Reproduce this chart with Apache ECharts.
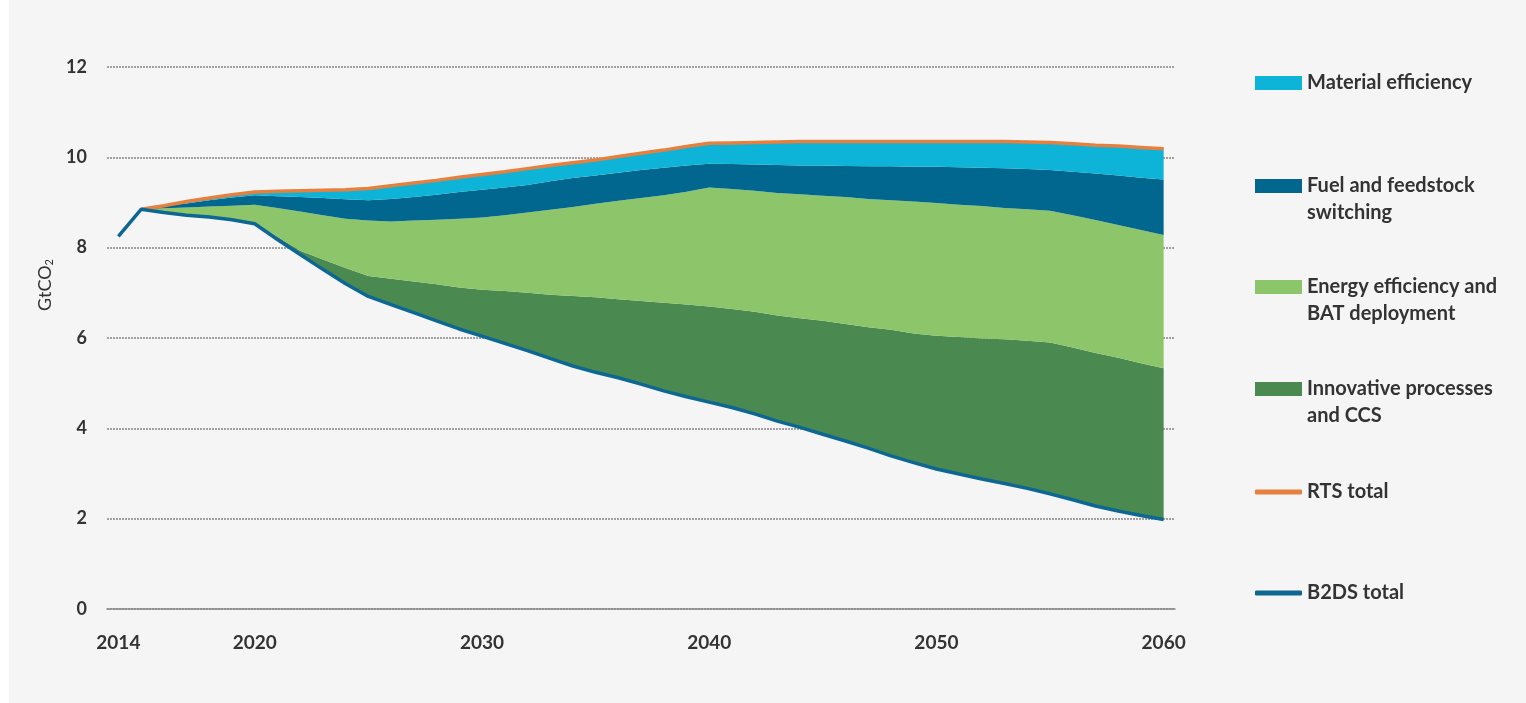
<!DOCTYPE html>
<html>
<head>
<meta charset="utf-8">
<script src="https://cdn.jsdelivr.net/npm/echarts@6/dist/echarts.min.js"></script>
<style>
  html, body { margin: 0; padding: 0; background: #ffffff; }
  #chart { width: 1526px; height: 703px; }
</style>
</head>
<body>
<div id="chart"></div>
<script>
// years on the x axis
const years = ['2014', '2015', '2016', '2017', '2018', '2019', '2020', '2021', '2022', '2023',
  '2024', '2025', '2026', '2027', '2028', '2029', '2030', '2031', '2032', '2033',
  '2034', '2035', '2036', '2037', '2038', '2039', '2040', '2041', '2042', '2043',
  '2044', '2045', '2046', '2047', '2048', '2049', '2050', '2051', '2052', '2053',
  '2054', '2055', '2056', '2057', '2058', '2059', '2060']

// level (GtCO2) of every boundary between the bands
const b2dsTotal = [8.25, 8.85, 8.78, 8.72, 8.68, 8.62, 8.53, 8.18, 7.85, 7.52,
  7.20, 6.92, 6.74, 6.56, 6.38, 6.20, 6.04, 5.88, 5.72, 5.55,
  5.38, 5.24, 5.12, 4.98, 4.83, 4.70, 4.58, 4.46, 4.32, 4.16,
  4.02, 3.87, 3.72, 3.56, 3.39, 3.24, 3.10, 2.99, 2.88, 2.78,
  2.67, 2.55, 2.42, 2.28, 2.17, 2.07, 1.98]
const innovTop = [8.25, 8.85, 8.78, 8.72, 8.68, 8.62, 8.53, 8.24, 7.93, 7.74,
  7.55, 7.37, 7.31, 7.25, 7.19, 7.12, 7.07, 7.04, 7.00, 6.96,
  6.93, 6.90, 6.86, 6.82, 6.78, 6.74, 6.70, 6.64, 6.58, 6.50,
  6.44, 6.38, 6.31, 6.24, 6.18, 6.10, 6.05, 6.02, 5.99, 5.97,
  5.94, 5.90, 5.79, 5.67, 5.56, 5.44, 5.33]
const energyTop = [8.25, 8.85, 8.87, 8.89, 8.91, 8.93, 8.95, 8.88, 8.80, 8.72,
  8.64, 8.60, 8.58, 8.60, 8.62, 8.64, 8.67, 8.72, 8.78, 8.84,
  8.90, 8.97, 9.04, 9.10, 9.16, 9.24, 9.33, 9.30, 9.26, 9.21,
  9.18, 9.15, 9.12, 9.08, 9.05, 9.02, 8.99, 8.95, 8.92, 8.88,
  8.85, 8.82, 8.72, 8.61, 8.50, 8.39, 8.28]
const fuelTop = [8.25, 8.85, 8.92, 8.98, 9.05, 9.11, 9.16, 9.14, 9.12, 9.10,
  9.07, 9.05, 9.08, 9.12, 9.17, 9.23, 9.28, 9.33, 9.39, 9.47,
  9.54, 9.60, 9.66, 9.72, 9.77, 9.82, 9.86, 9.85, 9.84, 9.83,
  9.82, 9.82, 9.81, 9.80, 9.80, 9.79, 9.79, 9.78, 9.77, 9.76,
  9.74, 9.72, 9.68, 9.64, 9.60, 9.55, 9.51]
const rtsTotal = [null, 8.85, 8.93, 9.02, 9.10, 9.17, 9.23, 9.25, 9.26, 9.27,
  9.28, 9.31, 9.37, 9.43, 9.49, 9.56, 9.62, 9.68, 9.75, 9.82,
  9.88, 9.94, 10.02, 10.09, 10.16, 10.24, 10.31, 10.32, 10.33, 10.34,
  10.35, 10.35, 10.35, 10.35, 10.35, 10.35, 10.35, 10.35, 10.35, 10.35,
  10.34, 10.33, 10.30, 10.27, 10.25, 10.22, 10.19]
const yTicks = [0, 2, 4, 6, 8, 10, 12]

// thickness of each band = gap between two boundaries
const band = (top, bottom) => top.map((v, i) => v == null ? 0 : +(v - bottom[i]).toFixed(2))

const colors = {
  material: '#0db4d7',
  fuel: '#02678f',
  energy: '#8cc56a',
  innov: '#4a8a50',
  rts: '#e5803f',
  b2ds: '#0e6792'
}

const font = 'Lato, "Open Sans", sans-serif'

function areaSeries (name, data, color) {
  return {
    name: name,
    type: 'line',
    stack: 'total',
    data: data,
    symbol: 'none',
    lineStyle: { width: 0 },
    itemStyle: { color: color },
    areaStyle: { color: color, opacity: 1 },
    silent: true
  }
}

// one legend per row; two-line labels get an empty first line so the
// swatch lines up with the first line of text
function legendItem (name, top, icon, h, twoLines) {
  return {
    data: [{ name: name, icon: icon }],
    left: 1255,
    top: top,
    padding: 0,
    itemWidth: 47,
    itemHeight: h,
    itemGap: 0,
    selectedMode: false,
    formatter: n => {
      if (!twoLines) return n
      return ' \n' + n.replace(' switching', '\nswitching').replace(' BAT', '\nBAT').replace(' and CCS', '\nand CCS')
    },
    textStyle: {
      color: '#333',
      fontSize: 20,
      fontWeight: 'bold',
      fontFamily: font,
      lineHeight: 27
    }
  }
}

let chart = echarts.init(document.getElementById('chart'))
let option = {
  animation: false,
  backgroundColor: '#f5f5f5',
  graphic: [
    { type: 'rect', left: 0, top: 0, shape: { width: 9, height: 703 }, style: { fill: '#ffffff' } }
  ],
  legend: [
    legendItem('Material efficiency', 83 - 13.5, 'rect', 14, false),
    legendItem('Fuel and feedstock switching', 186 - 40.5, 'rect', 14, true),
    legendItem('Energy efficiency and BAT deployment', 287 - 40.5, 'rect', 14, true),
    legendItem('Innovative processes and CCS', 389 - 40.5, 'rect', 14, true),
    legendItem('RTS total', 492 - 13.5, 'roundRect', 5, false),
    legendItem('B2DS total', 593 - 13.5, 'roundRect', 5, false)
  ],
  grid: {
    left: 107,
    right: 351,
    top: 67,
    bottom: 94
  },
  xAxis: {
    type: 'category',
    data: years,
    boundaryGap: true,
    axisLine: { lineStyle: { color: '#8a8a8a', width: 1.5 } },
    axisTick: {
      interval: 0,
      length: 7,
      lineStyle: { color: '#8a8a8a', width: 1.5 }
    },
    axisLabel: {
      interval: (i, v) => v === '2014' || +v % 10 === 0,
      color: '#333',
      fontSize: 19,
      fontWeight: 'bold',
      fontFamily: font,
      margin: 24
    },
    splitLine: { show: false }
  },
  yAxis: {
    type: 'value',
    min: yTicks[0],
    max: yTicks[yTicks.length - 1],
    interval: 2,
    name: 'GtCO{s|2}',
    nameLocation: 'middle',
    nameRotate: 90,
    nameGap: 52,
    nameTextStyle: {
      color: '#333',
      fontSize: 18,
      fontFamily: font,
      padding: [0, 0, 0, 106],
      rich: { s: { fontSize: 11, fontFamily: font, color: '#333', padding: [8, 0, 0, 0] } }
    },
    axisLine: { show: false },
    axisTick: { show: false },
    axisLabel: {
      color: '#333',
      fontSize: 18,
      fontWeight: 'bold',
      fontFamily: font,
      margin: 20
    },
    splitLine: {
      lineStyle: { color: '#858585', width: 1.5, type: [2, 1] }
    }
  },
  series: [
    {
      name: 'base',
      type: 'line',
      stack: 'total',
      data: b2dsTotal,
      symbol: 'none',
      lineStyle: { width: 0 },
      silent: true
    },
    areaSeries('Innovative processes and CCS', band(innovTop, b2dsTotal), colors.innov),
    areaSeries('Energy efficiency and BAT deployment', band(energyTop, innovTop), colors.energy),
    areaSeries('Fuel and feedstock switching', band(fuelTop, energyTop), colors.fuel),
    areaSeries('Material efficiency', band(rtsTotal, fuelTop), colors.material),
    {
      name: 'RTS total',
      type: 'line',
      data: rtsTotal,
      symbol: 'none',
      z: 5,
      itemStyle: { color: colors.rts },
      lineStyle: { color: colors.rts, width: 3.5 }
    },
    {
      name: 'B2DS total',
      type: 'line',
      data: b2dsTotal,
      symbol: 'none',
      z: 6,
      itemStyle: { color: colors.b2ds },
      lineStyle: { color: colors.b2ds, width: 3.5 }
    }
  ]
}
chart.setOption(option)
</script>
</body>
</html>
